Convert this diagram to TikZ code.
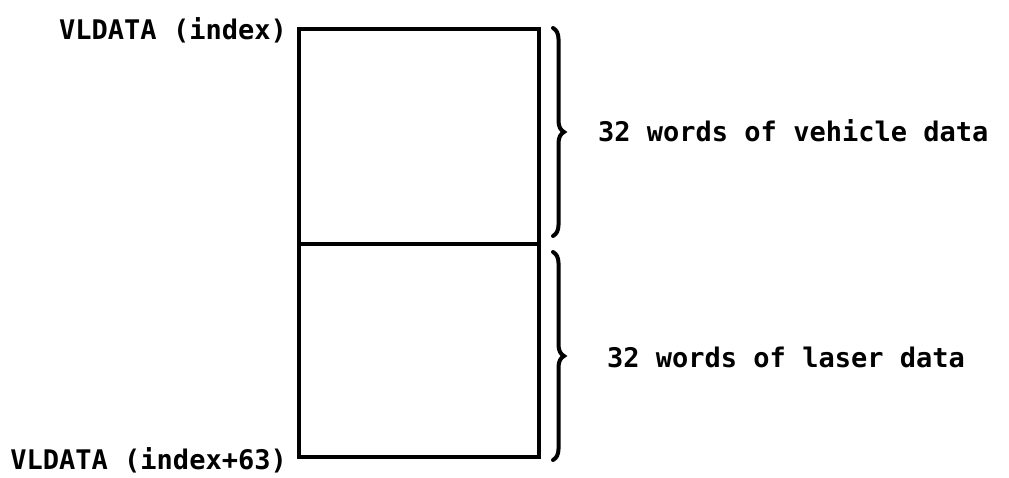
\documentclass[tikz,border=0pt]{standalone}
\usepackage{fontspec}
\setmonofont{DejaVu Sans Mono}
\usetikzlibrary{decorations.pathreplacing}
\begin{document}
\begin{tikzpicture}[x=1pt,y=-1pt,
  cell/.style={draw, line width=4.6pt, minimum width=240pt, inner sep=0pt, outer sep=0pt, anchor=north west},
  lbl/.style={font=\fontsize{27}{30}\selectfont\ttfamily\bfseries, inner sep=0pt},
  br/.style={decorate, decoration={brace, amplitude=11pt}, line width=4pt, line cap=round}]
\useasboundingbox (0,0) rectangle (1009,477);
\node[cell, minimum height=215pt] (top) at (299,29) {};
\node[cell, minimum height=213pt] (bot) at (299,244) {};
\node[lbl, anchor=east] (l1) at ([xshift=-12pt,yshift=-1pt]top.north west) {VLDATA (index)};
\node[lbl, anchor=east] (l2) at ([xshift=-12pt,yshift=-3pt]bot.south west) {VLDATA (index+63)};
\coordinate (b1s) at (553,28);
\coordinate (b1e) at (553,236);
\coordinate (b2s) at (553,252);
\coordinate (b2e) at (553,460);
\draw[br] (b1s) -- (b1e);
\draw[br] (b2s) -- (b2e);
\node[lbl, anchor=west] (t1) at (598,131) {32 words of vehicle data};
\node[lbl, anchor=west] (t2) at (607,357) {32 words of laser data};
\end{tikzpicture}
\end{document}
